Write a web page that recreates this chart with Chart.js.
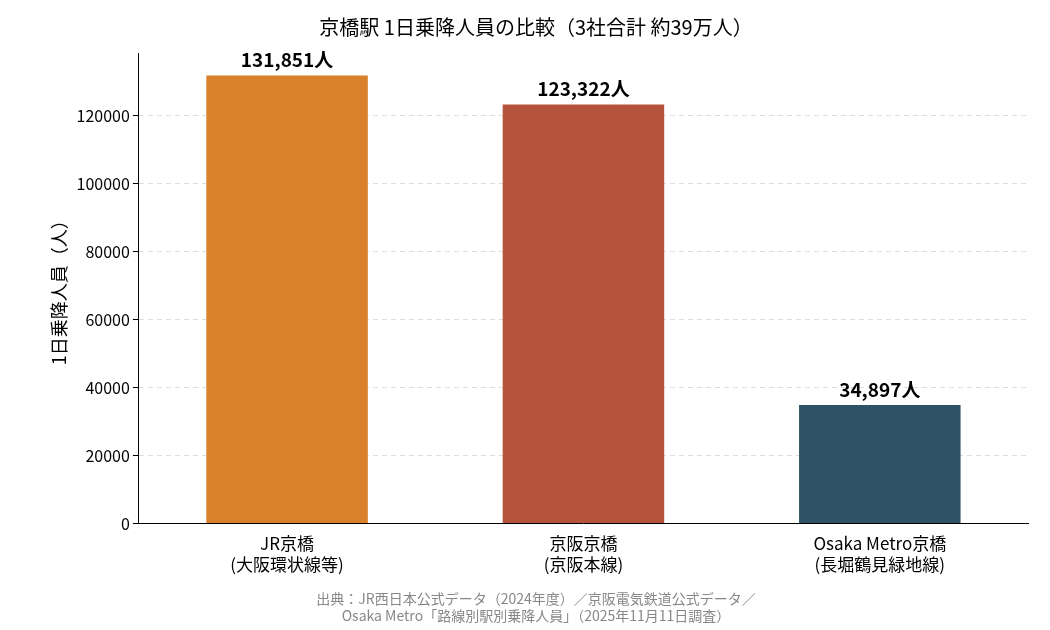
<!DOCTYPE html>
<html><head><meta charset="utf-8">
<script src="https://cdn.jsdelivr.net/npm/chart.js@4"></script>
<style>body{margin:0;background:#fff}#w{width:1050px;height:630px}</style>
</head><body><div id="w"><canvas id="c"></canvas></div>
<script>
const categories=[["JR京橋","(大阪環状線等)"],["京阪京橋","(京阪本線)"],["Osaka Metro京橋","(長堀鶴見緑地線)"]];
const values=[131851,123322,34897];
const colors=["#D9822B","#B5533C","#2E5266"];
const F="'Noto Sans CJK JP'";
const labelPlugin={id:'lbl',afterDatasetsDraw(ch){const ctx=ch.ctx;const m=ch.getDatasetMeta(0);ctx.save();ctx.font="bold 19px "+F;ctx.fillStyle="#000";ctx.textAlign="center";ctx.textBaseline="bottom";m.data.forEach((b,i)=>{ctx.fillText(values[i].toLocaleString('en-US')+"人",b.x,b.y-6);});ctx.restore();}};
new Chart(document.getElementById('c'),{type:'bar',
data:{labels:categories,datasets:[{data:values,backgroundColor:colors,barPercentage:0.545,categoryPercentage:1}]},
options:{responsive:true,maintainAspectRatio:false,animation:false,
layout:{padding:{left:44,right:22,top:5,bottom:0}},
plugins:{legend:{display:false},tooltip:{enabled:false},
title:{display:true,text:"京橋駅 1日乗降人員の比較（3社合計 約39万人）",font:{family:F,size:20,weight:'normal'},color:"#000",padding:{top:10,bottom:14}},
subtitle:{display:true,position:'bottom',text:["出典：JR西日本公式データ（2024年度）／京阪電気鉄道公式データ／","Osaka Metro「路線別駅別乗降人員」（2025年11月11日調査）"],font:{family:F,size:14},color:"#888",padding:{top:14,bottom:6}}},
scales:{x:{grid:{display:false},border:{color:"#000"},ticks:{color:"#000",font:{family:F,size:17},padding:2}},
y:{min:0,max:138443,afterBuildTicks(a){a.ticks=[0,20000,40000,60000,80000,100000,120000].map(v=>({value:v}));},
grid:{color:"#ddd",tickColor:"#000",tickLength:6,drawTicks:true},border:{color:"#000",dash:[5,4]},
ticks:{color:"#000",font:{family:F,size:16},callback:v=>String(v)},
title:{display:true,text:"1日乗降人員（人）",color:"#000",font:{family:F,size:18}}}}},
plugins:[labelPlugin]});
</script></body></html>
